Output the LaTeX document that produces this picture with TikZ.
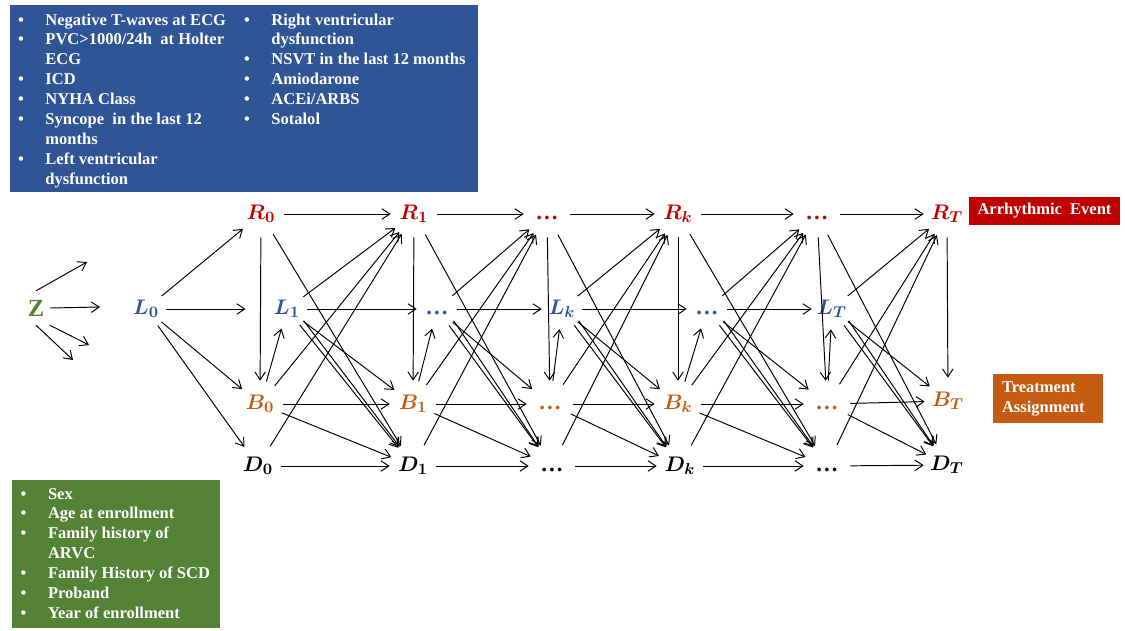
\documentclass[tikz,border=0pt]{standalone}
\usepackage{fontspec}
\setmainfont{Liberation Serif}
\usetikzlibrary{arrows.meta}
\definecolor{boxblue}{HTML}{2F5597}
\definecolor{boxgreen}{HTML}{548235}
\definecolor{boxred}{HTML}{C00000}
\definecolor{boxorange}{HTML}{C55A11}
\definecolor{lblue}{HTML}{2F5597}
\newcommand\bl{\makebox[15.6pt][l]{\textbullet}}
\newcommand\mydots{$\vphantom{R_T}$\textbf{.\kern1.2pt.\kern1.2pt.}}
\tikzset{
  lab/.style={circle, inner sep=0pt, minimum size=0.92cm, font=\fontsize{13}{16}\selectfont\boldmath},
  rlab/.style={lab, text=boxred},
  blab/.style={lab, text=boxorange},
  dlab/.style={lab, text=black},
  llab/.style={lab, minimum size=0.8cm, text=lblue},
  arr/.style={-{Straight Barb[length=4.5pt,width=6pt]}, line width=0.55pt, black},
  listtext/.style={font=\fontsize{9.4}{11.34}\selectfont\bfseries, text=white, inner sep=0pt, anchor=base west},
  tagbox/.style={font=\fontsize{9.4}{11.34}\selectfont\bfseries, text=white, inner sep=0pt},
}
\begin{document}
\begin{tikzpicture}[x=0.02cm,y=-0.02cm]
\useasboundingbox (0,0) rectangle (1125,630);
\fill[white] (0,0) rectangle (1125,630);

% covariate boxes
\fill[boxblue] (10,5) rectangle (478,192);
\node[listtext] (tl) at (17.7,25) {\begin{tabular}[t]{@{}l@{}l@{}}
\bl & Negative T-waves at ECG\\
\bl & PVC>1000/24h\ \ at Holter\\
    & ECG\\
\bl & ICD\\
\bl & NYHA Class\\
\bl & Syncope\ \ in the last 12\\
    & months\\
\bl & Left ventricular\\
    & dysfunction
\end{tabular}};
\node[listtext] (tr) at (243.7,25) {\begin{tabular}[t]{@{}l@{}l@{}}
\bl & Right ventricular\\
    & dysfunction\\
\bl & NSVT in the last 12 months\\
\bl & Amiodarone\\
\bl & ACEi/ARBS\\
\bl & Sotalol
\end{tabular}};

\fill[boxgreen] (12,480) rectangle (220,628);
\node[listtext] (bg) at (20.3,499) {\begin{tabular}[t]{@{}l@{}l@{}}
\bl & Sex\\
\bl & Age at enrollment\\
\bl & Family history of\\
    & ARVC\\
\bl & Family History of SCD\\
\bl & Proband\\
\bl & Year of enrollment
\end{tabular}};

\node[tagbox, fill=boxred, minimum width=3.02cm, minimum height=0.56cm] (ae) at (1044.5,211) {Arrhythmic\ \ Event};
\node[tagbox, fill=boxorange, minimum width=2.2cm, minimum height=0.98cm, inner xsep=0.18cm, text width=1.84cm, align=left] (ta) at (1048,398.5) {Treatment\\Assignment};

% baseline node
\node[font=\fontsize{14}{17}\selectfont\bfseries, text=boxgreen, inner xsep=3pt, inner ysep=5pt] (z) at (36,308) {Z};
\coordinate (z1) at (87,262);
\coordinate (z2) at (100,307);
\coordinate (z3) at (89,345);
\coordinate (z4) at (73,360);
\draw[arr] (z.north) -- (z1);
\draw[arr] (z.east) -- (z2);
\draw[arr] (z.south east) -- (z3);
\draw[arr] (z.south) -- (z4);

% time-slice nodes
\node[rlab] (r0) at (261,214) {$\vphantom{R_T}R_0$};
\node[rlab] (r1) at (414,214) {$\vphantom{R_T}R_1$};
\node[rlab] (r2) at (547,214) {\mydots};
\node[rlab] (r3) at (678,214) {$\vphantom{R_T}R_k$};
\node[rlab] (r4) at (817,214) {\mydots};
\node[rlab] (r5) at (947,214) {$\vphantom{R_T}R_T$};

\node[llab] (l0) at (146,309) {$\vphantom{R_T}L_0$};
\node[llab] (l1) at (287,309) {$\vphantom{R_T}L_1$};
\node[llab] (l2) at (437,309) {\mydots};
\node[llab] (l3) at (562,309) {$\vphantom{R_T}L_k$};
\node[llab] (l4) at (707,309) {\mydots};
\node[llab] (l5) at (832,309) {$\vphantom{R_T}L_T$};

\node[blab] (b0) at (260,404) {$\vphantom{R_T}B_0$};
\node[blab] (b1) at (413,404) {$\vphantom{R_T}B_1$};
\node[blab] (b2) at (550,404) {\mydots};
\node[blab] (b3) at (678,404) {$\vphantom{R_T}B_k$};
\node[blab] (b4) at (827,404) {\mydots};
\node[blab] (b5) at (948,401) {$\vphantom{R_T}B_T$};

\node[dlab] (d0) at (258,466) {$\vphantom{R_T}D_0$};
\node[dlab] (d1) at (413,466) {$\vphantom{R_T}D_1$};
\node[dlab] (d2) at (552,466) {\mydots};
\node[dlab] (d3) at (680,466) {$\vphantom{R_T}D_k$};
\node[dlab] (d4) at (827,466) {\mydots};
\node[dlab] (d5) at (947,465) {$\vphantom{R_T}D_T$};

% edges
\draw[arr] (l0) -- (r0);
\draw[arr] (l0) -- (b0);
\draw[arr] (l0) -- (d0);
\draw[arr, shorten >=12pt] (l0) -- (l1);
\foreach \a/\b in {1/2,2/3,3/4,4/5} {
  \draw[arr] (l\a) -- (l\b);
}
\foreach \a/\b in {0/1,1/2,2/3,3/4,4/5} {
  \draw[arr] (r\a) -- (r\b);
  \draw[arr] (b\a) -- (b\b);
  \draw[arr] (d\a) -- (d\b);
  \draw[arr] (r\a) -- (b\a);
  \draw[arr] (b\a) -- (l\b);
  \draw[arr] (l\b) -- (r\b);
  \draw[arr] (l\b) -- (b\b);
  \draw[arr] (l\b) -- (d\b);
  \draw[arr] (l\b.-35) -- (d\b.125);
  \draw[arr] (b\a) -- (r\b);
  \draw[arr] (d\a) -- (r\b);
  \draw[arr] (b\a) -- (d\b);
  \draw[arr] (r\a) -- (d\b);
}
\draw[arr] (r5) -- (b5);
\end{tikzpicture}
\end{document}
